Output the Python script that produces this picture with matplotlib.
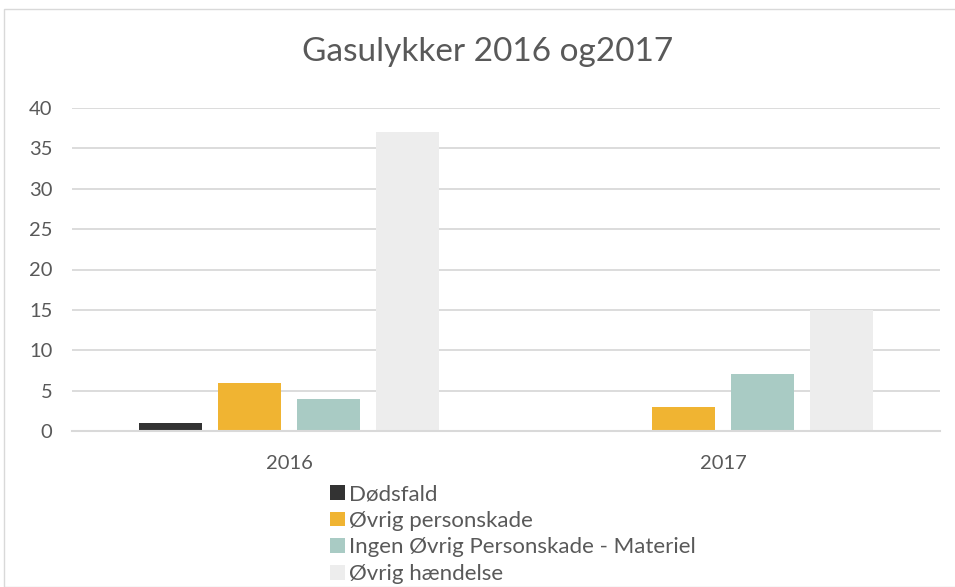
import numpy as np
import matplotlib.pyplot as plt
from matplotlib.patches import Rectangle

years = ['2016', '2017']
series = ['Dødsfald', 'Øvrig personskade', 'Ingen Øvrig Personskade - Materiel', 'Øvrig hændelse']
values = [
    [1, 0],
    [6, 3],
    [4, 7],
    [37, 15],
]
colors = ['#333333', '#F0B432', '#A9CBC4', '#EDEDED']

plt.rcParams['font.family'] = ['Lato', 'DejaVu Sans']

fig = plt.figure(figsize=(9.55, 5.87), dpi=100)
ax = fig.add_axes([72 / 955, (587 - 431) / 587, 868 / 955, (431 - 108) / 587])

x = np.arange(len(years))
width = 0.143
step = 0.182
for i, (name, vals) in enumerate(zip(series, values)):
    offs = (i - 1.5) * step
    ax.bar(x + offs, vals, width, color=colors[i], label=name, zorder=2)

ax.set_xlim(-0.5, 1.5)
ax.set_ylim(0, 40)
ax.set_yticks(range(0, 41, 5))
ax.set_xticks(x)
ax.set_xticklabels(years)
ax.yaxis.grid(True, color='#D9D9D9', linewidth=1.3, zorder=0)
ax.set_axisbelow(True)
for s in ['top', 'right', 'left']:
    ax.spines[s].set_visible(False)
ax.spines['bottom'].set_color('#D9D9D9')
ax.spines['bottom'].set_linewidth(1.5)
ax.spines['bottom'].set_zorder(3)
ax.tick_params(axis='both', length=0, labelsize=14.5, labelcolor='#595959')
ax.tick_params(axis='y', pad=14)
ax.tick_params(axis='x', pad=17)

fig.suptitle('Gasulykker 2016 og2017', x=488 / 955, y=1 - 52 / 587, va='center',
             fontsize=24, color='#595959')

fig.legend(loc='upper left', bbox_to_anchor=(319 / 955, 1 - 473 / 587), frameon=False,
           fontsize=16, labelcolor='#595959', handlelength=0.65, handleheight=0.65,
           handletextpad=0.22, labelspacing=0.3, borderpad=0)

fig.patches.append(Rectangle((4 / 955, 0), 1, (587 - 9) / 587, transform=fig.transFigure,
                             fill=False, edgecolor='#D9D9D9', linewidth=1))

fig.savefig('out.png', dpi=100)
